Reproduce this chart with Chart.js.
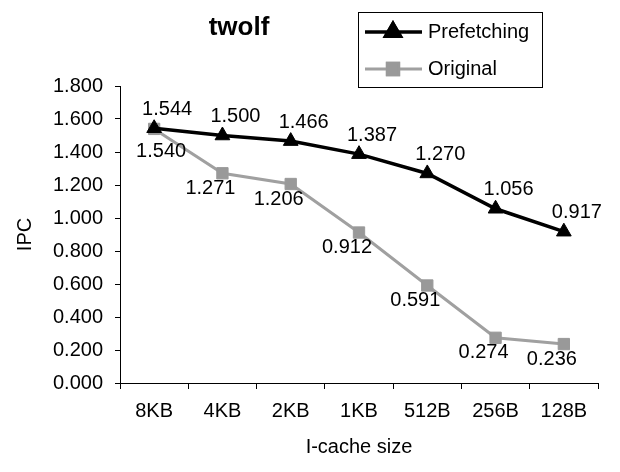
<!DOCTYPE html>
<html>
<head>
<meta charset="utf-8">
<script src="https://cdn.jsdelivr.net/npm/chart.js@4.4.0/dist/chart.umd.min.js"></script>
<style>
  body { margin: 0; background: #fff; }
  canvas { display: block; }
</style>
</head>
<body>
<canvas id="myChart" width="620" height="472"></canvas>
<script>
// data
var cacheSizes = ["8KB", "4KB", "2KB", "1KB", "512B", "256B", "128B"];
var prefetching = [1.544, 1.500, 1.466, 1.387, 1.270, 1.056, 0.917];
var original = [1.540, 1.271, 1.206, 0.912, 0.591, 0.274, 0.236];
var chartTitle = "twolf";

var FONT = "'Liberation Sans', Arial, sans-serif";

// draws the title, the boxed legend and the value labels
var decor = {
  id: 'decor',
  afterDatasetsDraw: function(chart) {
    const ctx = chart.ctx;
    ctx.save();
    ctx.fillStyle = '#000';
    ctx.textBaseline = 'middle';
    ctx.textAlign = 'center';

    // value labels
    ctx.font = '20px ' + FONT;
    chart.data.datasets.forEach(function(ds, di) {
      const meta = chart.getDatasetMeta(di);
      meta.data.forEach(function(pt, i) {
        const txt = ds.data[i].toFixed(3);
        let dx, dy;
        if (di === 0) { dx = 13; dy = -19; }
        else if (i === 0) { dx = 7; dy = 23; }
        else { dx = -12; dy = 15; }
        ctx.fillText(txt, pt.x + dx, pt.y + dy);
      });
    });

    // title
    ctx.font = 'bold 26px ' + FONT;
    ctx.fillText(chartTitle, 239, 28);

    // legend
    ctx.strokeStyle = '#000';
    ctx.lineWidth = 1;
    ctx.strokeRect(358.5, 12.5, 184, 75);
    ctx.font = '20px ' + FONT;
    ctx.textAlign = 'left';
    const rows = [32, 69];
    chart.data.datasets.forEach(function(ds, di) {
      const y = rows[di];
      ctx.strokeStyle = ds.borderColor;
      ctx.lineWidth = ds.borderWidth;
      ctx.beginPath();
      ctx.moveTo(365, y);
      ctx.lineTo(422, y);
      ctx.stroke();
      Chart.helpers.drawPoint(ctx, {
        pointStyle: ds.pointStyle,
        radius: ds.pointRadius,
        borderWidth: 1,
        rotation: 0
      }, 393, y);
      ctx.fillStyle = ds.pointBackgroundColor;
      ctx.strokeStyle = ds.pointBorderColor;
      ctx.fill();
      ctx.stroke();
      ctx.fillStyle = '#000';
      ctx.fillText(ds.label, 428, y);
    });
    ctx.restore();
  }
};

const ctx = document.getElementById('myChart');

new Chart(ctx, {
  type: 'line',
  data: {
    labels: cacheSizes,
    datasets: [{
      label: 'Prefetching',
      data: prefetching,
      borderColor: '#000000',
      backgroundColor: '#000000',
      pointBackgroundColor: '#000000',
      pointBorderColor: '#000000',
      borderWidth: 3.5,
      pointStyle: 'triangle',
      pointRadius: 8.5,
      pointBorderWidth: 1,
      tension: 0
    }, {
      label: 'Original',
      data: original,
      borderColor: '#a0a0a0',
      backgroundColor: '#999999',
      pointBackgroundColor: '#999999',
      pointBorderColor: '#999999',
      borderWidth: 3,
      pointStyle: 'rect',
      pointRadius: 8,
      pointBorderWidth: 1,
      tension: 0
    }]
  },
  options: {
    responsive: false,
    animation: false,
    layout: { padding: { top: 86, right: 22, left: 0, bottom: 0 } },
    plugins: {
      legend: { display: false },
      title: { display: false },
      tooltip: { enabled: false }
    },
    scales: {
      x: {
        offset: true,
        grid: {
          offset: true,
          drawOnChartArea: false,
          drawTicks: true,
          tickLength: 6,
          color: '#000'
        },
        border: { display: true, color: '#000', width: 1 },
        ticks: {
          color: '#000',
          font: { family: FONT, size: 20 },
          padding: 10,
          maxRotation: 0
        },
        title: {
          display: true,
          text: 'I-cache size',
          color: '#000',
          font: { family: FONT, size: 20 },
          padding: { top: 0, bottom: 13 }
        },
        afterFit: function(scale) { scale.height = 89; }
      },
      y: {
        min: 0,
        max: 1.8,
        grid: {
          drawOnChartArea: false,
          drawTicks: true,
          tickLength: 5,
          color: '#000'
        },
        border: { display: true, color: '#000', width: 1 },
        ticks: {
          stepSize: 0.2,
          color: '#000',
          font: { family: FONT, size: 20 },
          padding: 12,
          callback: function(v) { return Number(v).toFixed(3); }
        },
        title: {
          display: true,
          text: 'IPC',
          color: '#000',
          font: { family: FONT, size: 20 },
          padding: { top: 13, bottom: 0 }
        },
        afterFit: function(scale) { scale.width = 120; }
      }
    }
  },
  plugins: [decor]
});
</script>
</body>
</html>
